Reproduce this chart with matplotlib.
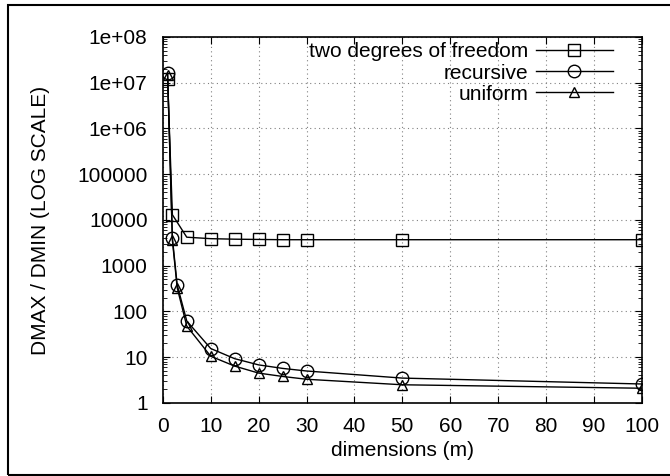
import matplotlib
matplotlib.use("Agg")
import matplotlib.pyplot as plt
from matplotlib.ticker import FixedLocator, FuncFormatter, LogLocator, NullFormatter
from matplotlib.patches import Rectangle

plt.rcParams['font.family'] = ['Liberation Sans', 'DejaVu Sans']

x_two = [1, 2, 5, 10, 15, 20, 25, 30, 50, 100]
y_two = [1.2e7, 13000, 4200, 3900, 3800, 3750, 3700, 3700, 3700, 3700]

x_rec = [1, 2, 3, 5, 10, 15, 20, 25, 30, 50, 100]
y_rec = [1.6e7, 4000, 380, 62, 15.5, 9.3, 6.8, 5.7, 5.0, 3.5, 2.6]

x_uni = [1, 2, 3, 5, 10, 15, 20, 25, 30, 50, 100]
y_uni = [1.5e7, 3600, 330, 48, 10.5, 6.4, 4.5, 3.8, 3.3, 2.5, 2.1]

labels = ["two degrees of freedom", "recursive", "uniform"]
ytick_vals = [1, 10, 100, 1000, 10000, 100000, 1e6, 1e7, 1e8]
ytick_labels = ["1", "10", "100", "1000", "10000", "100000", "1e+06", "1e+07", "1e+08"]

fig = plt.figure(figsize=(6.70, 4.76), dpi=100)
ax = fig.add_axes([0.243, 0.1534, 0.715, 0.769])

kw = dict(color='black', lw=1.0, mfc='none', mec='black', mew=1.0)
ax.plot(x_two, y_two, marker='s', ms=8.5, label=labels[0], **kw)
ax.plot(x_rec, y_rec, marker='o', ms=9, label=labels[1], **kw)
ax.plot(x_uni, y_uni, marker='^', ms=7.5, label=labels[2], **kw)

ax.set_yscale('log')
ax.set_xlim(0, 100)
ax.set_ylim(1, 1e8)
ax.set_xticks(range(0, 101, 10))
ax.yaxis.set_major_locator(FixedLocator(ytick_vals))
ax.yaxis.set_major_formatter(FuncFormatter(lambda v, p: ytick_labels[ytick_vals.index(v)] if v in ytick_vals else ""))
ax.yaxis.set_minor_locator(LogLocator(base=10, subs=range(2, 10), numticks=20))
ax.yaxis.set_minor_formatter(NullFormatter())

ax.tick_params(which='both', direction='in', top=True, right=True, labelsize=15)
ax.tick_params(which='major', length=5)
ax.tick_params(which='minor', length=3)
ax.tick_params(axis='y', which='major', pad=11)
ax.tick_params(axis='x', which='major', pad=10)
ax.grid(True, which='major', color='gray', linestyle=(0, (1, 3)), lw=0.8)
for s in ax.spines.values():
    s.set_linewidth(1.2)

ax.set_xlabel("dimensions (m)", fontsize=15, labelpad=4)
ax.set_ylabel("DMAX / DMIN (LOG SCALE)", fontsize=15)
ax.yaxis.set_label_coords(-0.236, 0.5)

leg = ax.legend(loc='upper right', bbox_to_anchor=(0.939, 0.985), frameon=False,
                markerfirst=False, fontsize=15, handlelength=3.7, borderaxespad=0,
                borderpad=0, labelspacing=0.1, handletextpad=0.35)

fig.patches.append(Rectangle((0.012, 0.003), 1.2, 0.986, transform=fig.transFigure,
                             fill=False, edgecolor='black', lw=1.5))

fig.savefig("out.png", dpi=100)
